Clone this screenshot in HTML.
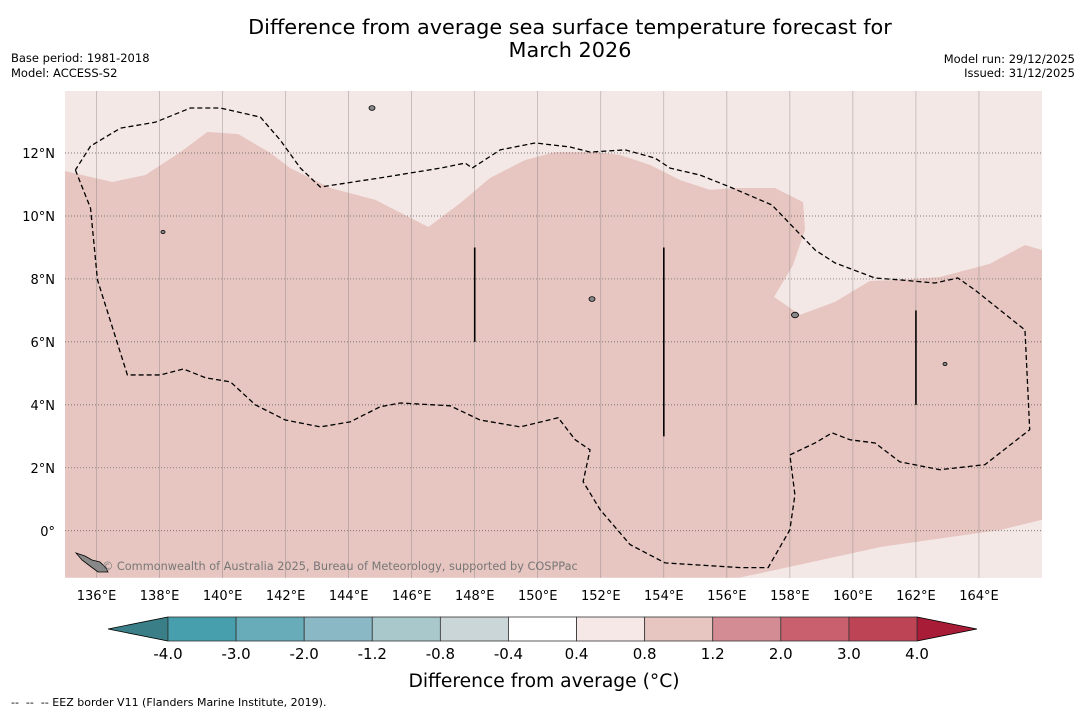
<!DOCTYPE html>
<html><head><meta charset="utf-8"><style>
body{margin:0;background:#fff;font-family:"DejaVu Sans","Liberation Sans",sans-serif;}
svg{display:block}
</style></head><body>
<svg id="c" width="1085" height="713" xmlns="http://www.w3.org/2000/svg">
<text x="570" y="34" text-anchor="middle" font-size="20.8">Difference from average sea surface temperature forecast for</text>
<text x="570" y="57" text-anchor="middle" font-size="20.8">March 2026</text>
<text x="11" y="62" font-size="11.5">Base period: 1981-2018</text>
<text x="11" y="77" font-size="11.5">Model: ACCESS-S2</text>
<text x="1075" y="63" font-size="11.5" text-anchor="end">Model run: 29/12/2025</text>
<text x="1075" y="77" font-size="11.5" text-anchor="end">Issued: 31/12/2025</text>
<g id="map"></g>
<g id="cbar"></g>
<text x="544" y="687" text-anchor="middle" font-size="18.7">Difference from average (°C)</text>
<text x="11" y="706" font-size="11" xml:space="preserve">--  --  -- EEZ border V11 (Flanders Marine Institute, 2019).</text>
<g id="map2"></g>
</svg>
<script>
const lonTicks=[136,138,140,142,144,146,148,150,152,154,156,158,160,162,164];
const latTicks=[0,2,4,6,8,10,12];
const anomLon=[135.0,136.5,137.55,138.66,139.52,140.5,141.52,142.15,143.42,144.85,146.53,147.54,148.49,149.6,150.55,151.82,152.61,153.57,154.52,155.47,156.26,157.53,158.42,158.48,158.1,157.5,158.32,159.43,160.54,161.49,162.76,164.34,165.46,166.0,166.0,164.7,160.9,158.3,156.4,135.0];
const anomLat=[11.43,11.08,11.3,12.03,12.67,12.6,12.0,11.52,10.89,10.51,9.65,10.41,11.21,11.78,12.03,12.03,11.94,11.62,11.14,10.83,10.89,10.89,10.44,9.56,8.44,7.43,6.86,7.27,7.94,7.97,8.06,8.48,9.08,8.92,0.35,0.03,-0.51,-1.08,-1.49,-1.49];
const eezLon=[135.33,135.81,136.03,136.98,138.03,138.76,139.46,140.25,141.04,141.99,143.1,144.05,145.0,145.64,147.22,148.17,149.44,150.65,151.19,151.66,151.44,151.98,152.93,154.04,156.42,157.31,158.0,158.16,158.0,158.8,159.34,159.91,160.7,161.49,162.76,164.19,165.61,165.46,163.87,163.33,162.6,161.49,160.7,159.43,158.8,157.43,156.1,155.15,154.2,153.72,152.77,151.66,151.03,149.92,148.81,147.92,147.7,146.91,145.0,143.1,142.47,141.83,141.2,139.93,138.98,137.87,136.76,135.81,135.33];
const eezLat=[11.46,10.25,7.97,4.95,4.95,5.14,4.86,4.73,4.0,3.52,3.3,3.46,3.94,4.06,3.97,3.52,3.3,3.59,2.89,2.57,1.56,0.67,-0.44,-1.02,-1.17,-1.17,0.03,1.14,2.41,2.79,3.11,2.89,2.79,2.19,1.94,2.1,3.21,6.38,7.65,8.03,7.87,7.97,8.03,8.51,8.92,10.35,10.92,11.3,11.52,11.84,12.1,12.03,12.19,12.32,12.1,11.52,11.68,11.52,11.21,10.92,11.52,12.41,13.14,13.43,13.43,12.98,12.79,12.22,11.46];
const segLon=[148,154,162];
const segLat0=[6,3,4];
const segLat1=[9,9,7];
const cbLevels=["-4.0","-3.0","-2.0","-1.2","-0.8","-0.4","0.4","0.8","1.2","2.0","3.0","4.0"];
const cbColors=["#479fad","#68abb9","#8ab8c4","#a9c8cc","#cbd6d8","#ffffff","#f5e8e6","#e7c6c1","#d48c94","#c8606e","#bd4455"];
const NS="http://www.w3.org/2000/svg";
const X0=65,X1=1042,Y0=91,Y1=578;
const LON0=135.0,LON1=166.0,LAT0=-1.5,LAT1=13.97;
const xs=l=>X0+(l-LON0)/(LON1-LON0)*(X1-X0);
const ys=l=>Y1-(l-LAT0)/(LAT1-LAT0)*(Y1-Y0);
const map=document.getElementById('map');
function mk(t,a,p){const e=document.createElementNS(NS,t);for(const k in a)e.setAttribute(k,a[k]);(p||map).appendChild(e);return e;}
const cp=mk('clipPath',{id:'clip'});mk('rect',{x:X0,y:Y0,width:X1-X0,height:Y1-Y0},cp);
let bg=mk('rect',{x:X0,y:Y0,width:X1-X0,height:Y1-Y0,fill:'#f4e8e6'});


let poly=mk('polygon',{points:anomLon.map((l,i)=>xs(l)+','+ys(anomLat[i])).join(' '),fill:'#e7c6c1','clip-path':'url(#clip)'});


lonTicks.forEach(l=>{
 let g=mk('line',{x1:xs(l),x2:xs(l),y1:Y0,y2:Y1,stroke:'#777','stroke-width':0.6,opacity:0.6});
 
 
 let t=mk('text',{x:xs(l),y:600,'text-anchor':'middle','font-size':13});t.textContent=l+'°E';
 
 
});
latTicks.forEach(l=>{
 let g=mk('line',{x1:X0,x2:X1,y1:ys(l),y2:ys(l),stroke:'#555','stroke-width':0.7,'stroke-dasharray':'1,2'});
 
 
 let t=mk('text',{x:55,y:ys(l)+5,'text-anchor':'end','font-size':13});t.textContent=l===0?'0°':l+'°N';
 
 
});
let eez=mk('polyline',{points:eezLon.map((l,i)=>xs(l)+','+ys(eezLat[i])).join(' '),fill:'none',stroke:'#000','stroke-width':1.3,'stroke-dasharray':'5,3'});


segLon.forEach((l,i)=>{
 let s=mk('line',{x1:xs(l),x2:xs(l),y1:ys(segLat0[i]),y2:ys(segLat1[i]),stroke:'#000','stroke-width':1.6});
 
 
});
[[372,108,3],[795,315,3.5],[592,299,3],[945,364,2],[163,232,2]].forEach(p=>{
 let c=mk('ellipse',{cx:p[0],cy:p[1],rx:p[2],ry:p[2]*0.8,fill:'#888',stroke:'#000','stroke-width':0.8});
 
 
});
let ng=mk('polygon',{points:'76,553 85,556 92,560 100,562 106,568 108,572 98,572 90,566 82,560',fill:'#888',stroke:'#000','stroke-width':0.8});


let cr=mk('text',{x:102,y:570,'font-size':11.3,fill:'#777'});cr.textContent='© Commonwealth of Australia 2025, Bureau of Meteorology, supported by COSPPac';


// colorbar
const cb=document.getElementById('cbar');
const CX0=168,CX1=917,CY=617,CH=24,n=cbColors.length,bw=(CX1-CX0)/n;
let lt=mk('polygon',{points:`${CX0},${CY} ${CX0},${CY+CH} 108,${CY+CH/2}`,fill:'#3a7f87',stroke:'#000','stroke-width':0.8},cb);


let rt=mk('polygon',{points:`${CX1},${CY} ${CX1},${CY+CH} 977,${CY+CH/2}`,fill:'#a81c38',stroke:'#000','stroke-width':0.8},cb);


cbColors.forEach((c,i)=>{
 let r=mk('rect',{x:CX0+i*bw,y:CY,width:bw,height:CH,fill:c,stroke:'#333','stroke-width':0.8},cb);
 
 
});
cbLevels.forEach((v,i)=>{
 let t=mk('text',{x:CX0+i*bw,y:659,'text-anchor':'middle','font-size':15},cb);t.textContent=v;
 
 
});
</script>
</body></html>
